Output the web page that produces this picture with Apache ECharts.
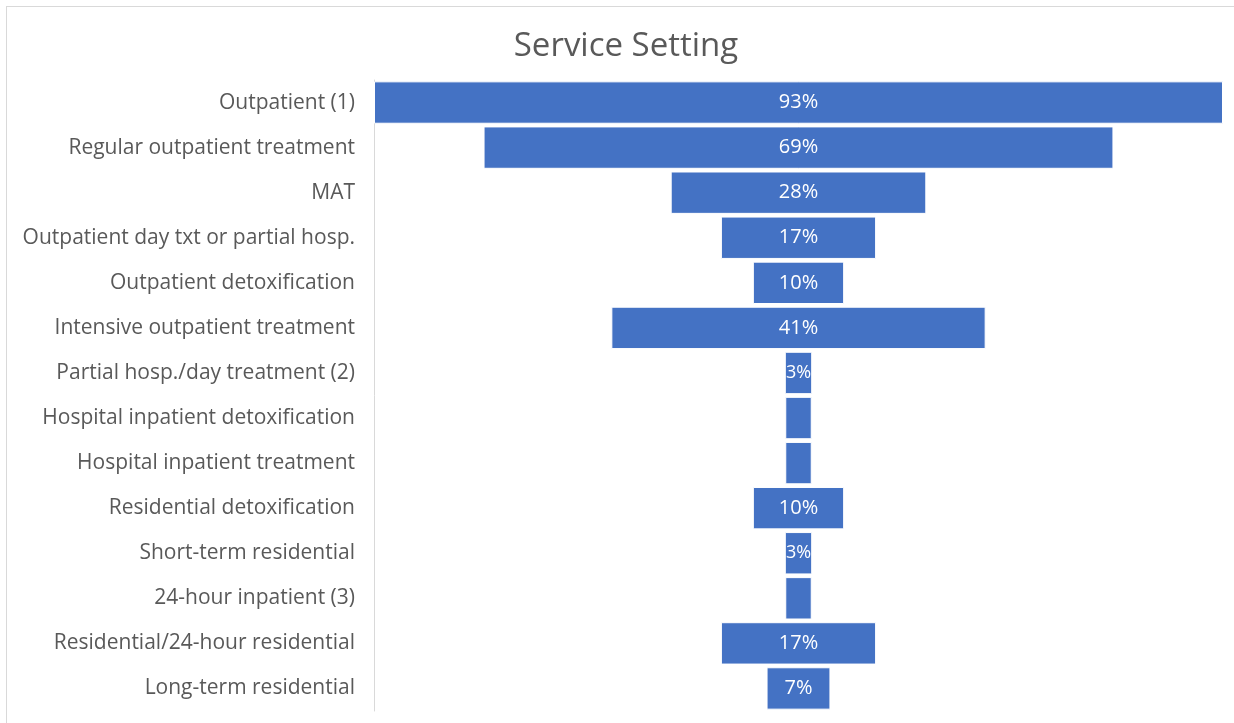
<!DOCTYPE html>
<html>
<head>
<meta charset="utf-8">
<style>
  html, body { margin: 0; padding: 0; background: #fff; }
  #frame { position: absolute; left: 6px; top: 6px; width: 1240px; height: 730px; border-left: 1px solid #d9d9d9; border-top: 1px solid #d9d9d9; }
  #chart { position: absolute; left: 0; top: 0; width: 1234px; height: 723px; }
</style>
<script src="https://cdn.jsdelivr.net/npm/echarts@6/dist/echarts.min.js"></script>
</head>
<body>
<div id="frame"></div>
<div id="chart"></div>
<script>
// Share of facilities offering each service setting (%)
const categories = [
  'Outpatient (1)',
  'Regular outpatient treatment',
  'MAT',
  'Outpatient day txt or partial hosp.',
  'Outpatient detoxification',
  'Intensive outpatient treatment',
  'Partial hosp./day treatment (2)',
  'Hospital inpatient detoxification',
  'Hospital inpatient treatment',
  'Residential detoxification',
  'Short-term residential',
  '24-hour inpatient (3)',
  'Residential/24-hour residential',
  'Long-term residential'
];
const values = [93, 69, 28, 17, 10, 41, 3, 2.9, 2.9, 10, 3, 2.9, 17, 7];
// bars without a printed percentage
const unlabeled = [false, false, false, false, false, false, false, true, true, false, false, true, false, false];

const maxValue = 93;
// transparent spacer so every bar is centred on the same axis
const offsets = values.map(v => (maxValue - v) / 2);

const chart = echarts.init(document.getElementById('chart'));
chart.setOption({
  animation: false,
  title: {
    text: 'Service Setting',
    left: 621,
    top: 25,
    textAlign: 'center',
    textStyle: { fontFamily: 'Open Sans', fontSize: 33, fontWeight: 'normal', color: '#595959' }
  },
  grid: { left: 374, right: 11, top: 80, bottom: 12, containLabel: false },
  xAxis: {
    type: 'value', min: 0, max: maxValue,
    show: false
  },
  yAxis: {
    type: 'category',
    data: categories,
    inverse: true,
    axisLine: { show: true, lineStyle: { color: '#d9d9d9', width: 1 } },
    axisTick: { show: false },
    axisLabel: { margin: 19, fontFamily: 'Open Sans', fontSize: 21, color: '#595959' }
  },
  series: [
    {
      type: 'bar', stack: 'f', silent: true,
      data: offsets,
      itemStyle: { color: 'transparent' },
      barCategoryGap: '6%'
    },
    {
      type: 'bar', stack: 'f',
      data: values.map((v, i) => ({
        value: v,
        label: { show: !unlabeled[i], fontSize: v < 5 ? 18 : 20 }
      })),
      itemStyle: { color: '#4472C4', borderColor: '#ffffff', borderWidth: 1 },
      barCategoryGap: '6%',
      label: {
        show: true, position: 'inside',
        overflow: 'none',
        formatter: p => Math.round(p.value) + '%',
        fontFamily: 'Open Sans', fontSize: 20, color: '#ffffff'
      },
      labelLayout: { hideOverlap: false }
    }
  ]
});
</script>
</body>
</html>
